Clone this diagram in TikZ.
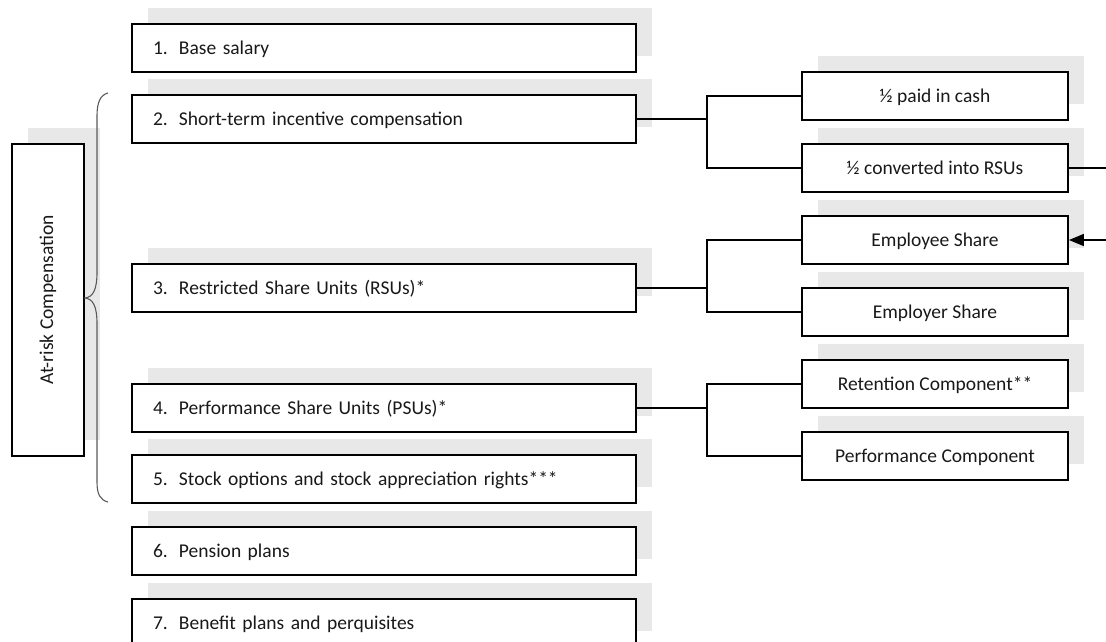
\documentclass[tikz,border=0pt]{standalone}
\usepackage{fontspec}
\setmainfont{Carlito}
\usetikzlibrary{arrows.meta,shadows}
\definecolor{shadowgray}{RGB}{232,232,232}
\definecolor{bracegray}{RGB}{90,90,90}
\begin{document}
\begin{tikzpicture}[x=1pt,y=-1pt,
  every node/.style={font=\fontsize{19.5pt}{23pt}\selectfont, text=black!90},
  boxbase/.style={draw=black, line width=1.8pt, fill=white, inner sep=0pt,
    text height=13pt, text depth=0pt,
    general shadow={fill=shadowgray, shadow xshift=16pt, shadow yshift=16pt}},
  leftbox/.style={boxbase, minimum width=504pt, minimum height=48pt,
    text width=462pt, align=left},
  rightbox/.style={boxbase, minimum width=266pt, minimum height=48pt, align=center},
  riskbox/.style={draw=black, line width=1.8pt, fill=white, inner sep=0pt,
    minimum width=72pt, minimum height=312pt,
    general shadow={fill=shadowgray, shadow xshift=16pt, shadow yshift=16pt}},
  conn/.style={draw=black, line width=1.5pt},
  bracestyle/.style={draw=bracegray, line width=1.1pt}
]
\useasboundingbox (0,0) rectangle (1106,641);

% left column
\node[leftbox] (b1) at (384,48)  {\makebox[26pt][l]{1.}Base salary};
\node[leftbox] (b2) at (384,119) {\makebox[26pt][l]{2.}Short-term incentive compensation};
\node[leftbox] (b3) at (384,288) {\makebox[26pt][l]{3.}Restricted Share Units (RSUs)*};
\node[leftbox] (b4) at (384,408) {\makebox[26pt][l]{4.}Performance Share Units (PSUs)*};
\node[leftbox] (b5) at (384,479) {\makebox[26pt][l]{5.}Stock options and stock appreciation rights***};
\node[leftbox] (b6) at (384,551) {\makebox[26pt][l]{6.}Pension plans};
\node[leftbox] (b7) at (384,623) {\makebox[26pt][l]{7.}Benefit plans and perquisites};

% at-risk box
\node[riskbox] (risk) at (48,300) {\rotatebox{90}{At-risk Compensation}};

% right column
\node[rightbox] (ra) at (935,96)  {½ paid in cash};
\node[rightbox] (rb) at (935,168) {½ converted into RSUs};
\node[rightbox] (rc) at (935,240) {Employee Share};
\node[rightbox] (rd) at (935,312) {Employer Share};
\node[rightbox] (re) at (935,384) {Retention Component**};
\node[rightbox] (rf) at (935,456) {Performance Component};

% brace
\draw[bracestyle] (108,93) .. controls (100,95) and (97,103) .. (97,116)
  -- (97,272) .. controls (97,290) and (93,297) .. (85,298)
  .. controls (93,299) and (97,306) .. (97,324)
  -- (97,482) .. controls (97,494) and (100,500) .. (108,502);

% connectors
\coordinate (j2) at (707,119);
\coordinate (j3) at (707,288);
\coordinate (j4) at (707,408);
\draw[conn] (b2.east) -- (j2);
\draw[conn] (j2) |- (ra.west);
\draw[conn] (j2) |- (rb.west);
\draw[conn] (b3.east) -- (j3);
\draw[conn] (j3) |- (rc.west);
\draw[conn] (j3) |- (rd.west);
\draw[conn] (b4.east) -- (j4);
\draw[conn] (j4) |- (re.west);
\draw[conn] (j4) |- (rf.west);

\coordinate (e1) at (1112,168);
\coordinate (e2) at (1112,240);
\draw[conn, -{Triangle[length=15pt,width=12pt]}] (rb.east) -- (e1) -- (e2) -- (rc.east);
\end{tikzpicture}
\end{document}
